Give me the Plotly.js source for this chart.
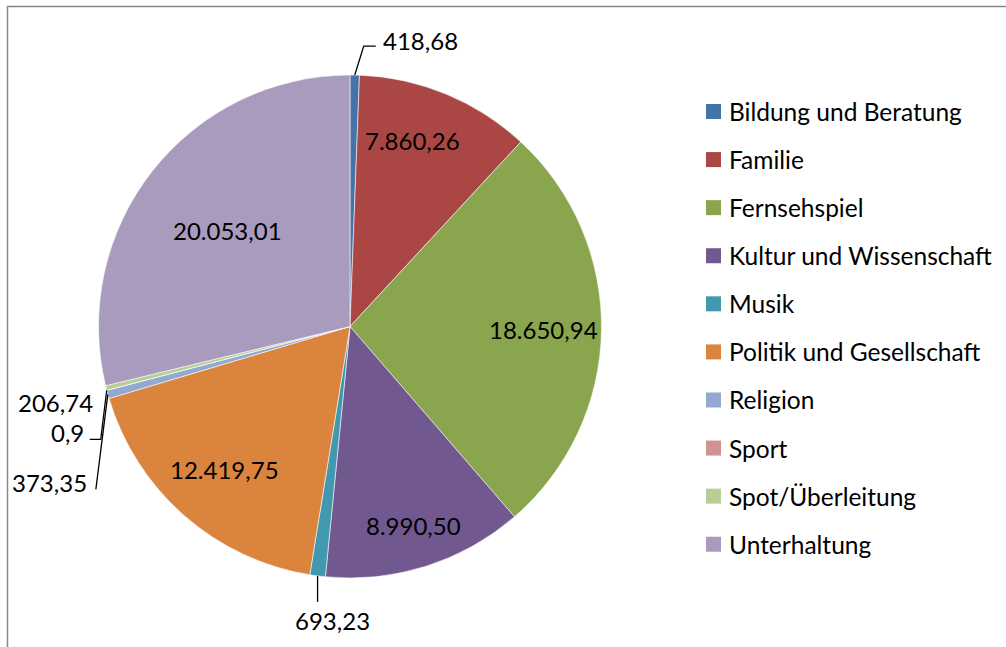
<!DOCTYPE html>
<html>
<head>
<meta charset="utf-8">
<script src="https://cdn.plot.ly/plotly-3.0.1.min.js"></script>
<style>
html,body{margin:0;padding:0;background:#fff;}
#chart{width:1006px;height:647px;}
</style>
</head>
<body>
<div id="chart"></div>
<script>
// ---- data ----
const categories = ["Bildung und Beratung","Familie","Fernsehspiel","Kultur und Wissenschaft","Musik","Politik und Gesellschaft","Religion","Sport","Spot/Überleitung","Unterhaltung"];
const values = [418.68, 7860.26, 18650.94, 8990.50, 693.23, 12419.75, 373.35, 0.9, 206.74, 20053.01];
const valueLabels = ["418,68","7.860,26","18.650,94","8.990,50","693,23","12.419,75","373,35","0,9","206,74","20.053,01"];
const colors = ["#4572A7","#AA4643","#89A54E","#71588F","#4198AF","#DB843D","#93A9CF","#D19392","#B9CD96","#A99BBD"];

// ---- layout config ----
const W = 1006, H = 647;
const cx = 350, cy = 326.5, R = 251.5;
const FONT = "Lato, 'Open Sans', sans-serif";
const FS = 24;     // data labels
const LFS = 24.5;  // legend
// inside label placement: radius (fraction of R) and angular nudge (deg)
const insideR = {1:0.78, 2:0.77, 3:0.83, 5:0.755, 9:0.62};
const insideAng = {1:-4};
// outside labels: leader path offsets (px) from slice edge point, label anchor offset
const outside = {
  0: {path:[[9,-29],[21,-29]], label:[26,-35], xanchor:'left'},
  4: {path:[[0,26]], label:[15,45], xanchor:'center'},
  6: {path:[[-12,95]], label:[-19,88], xanchor:'right'},
  7: {path:[[-6,49],[-17,49]], label:[-21,42], xanchor:'right'},
  8: {path:[], label:[-11,14], xanchor:'right'}
};

const px = x => x / W;
const py = y => 1 - y / H;

const total = values.reduce((a,b)=>a+b,0);
let cum = 0;
const mids = values.map(v => { const m = (cum + v/2)/total; cum += v; return m*2*Math.PI; });
const polar = (ang, r) => [cx + r*Math.sin(ang), cy - r*Math.cos(ang)];

const annotations = [];
const shapes = [];

// frame
shapes.push({type:'line', xref:'paper', yref:'paper', x0:px(7), x1:1, y0:py(6.5), y1:py(6.5), line:{color:'#878787', width:1.5}});
shapes.push({type:'line', xref:'paper', yref:'paper', x0:px(7.5), x1:px(7.5), y0:py(6), y1:0, line:{color:'#878787', width:1.5}});

values.forEach((v,i) => {
  if (insideR[i] !== undefined) {
    const ang = mids[i] + (insideAng[i] || 0) * Math.PI / 180;
    const [x,y] = polar(ang, R*insideR[i]);
    annotations.push({xref:'paper', yref:'paper', x:px(x), y:py(y), text:valueLabels[i], showarrow:false,
      xanchor:'center', yanchor:'middle', font:{family:FONT, size:FS, color:'#000'}});
  } else if (outside[i]) {
    const o = outside[i];
    const [ex,ey] = polar(mids[i], R);
    if (o.path.length) {
      let d = `M${px(ex)},${py(ey)}`;
      o.path.forEach(p => { d += ` L${px(ex+p[0])},${py(ey+p[1])}`; });
      shapes.push({type:'path', xref:'paper', yref:'paper', path:d, line:{color:'#000', width:1.3}});
    }
    annotations.push({xref:'paper', yref:'paper', x:px(ex+o.label[0]), y:py(ey+o.label[1]), text:valueLabels[i], showarrow:false,
      xanchor:o.xanchor, yanchor:'middle', font:{family:FONT, size:FS, color:'#000'}});
  }
});

// legend (built from categories/colors)
const legX = 706, legY0 = 111.5, legStep = 48.08, sw = 15;
categories.forEach((c,i) => {
  const yc = legY0 + i*legStep;
  shapes.push({type:'rect', xref:'paper', yref:'paper', x0:px(legX), x1:px(legX+sw), y0:py(yc-sw/2), y1:py(yc+sw/2),
    fillcolor:colors[i], line:{width:0}});
  annotations.push({xref:'paper', yref:'paper', x:px(legX+sw+6), y:py(yc), text:c, showarrow:false,
    xanchor:'left', yanchor:'middle', font:{family:FONT, size:LFS, color:'#000'}});
});

const trace = {
  type:'pie', labels:categories, values:values, sort:false, direction:'clockwise', rotation:0,
  marker:{colors:colors, line:{color:'rgba(255,255,255,0.7)', width:0.8}},
  textinfo:'none', hoverinfo:'label+value',
  domain:{x:[px(cx-R), px(cx+R)], y:[py(cy+R), py(cy-R)]}
};

Plotly.newPlot('chart', [trace], {
  width:W, height:H, margin:{l:0,r:0,t:0,b:0},
  paper_bgcolor:'#fff', showlegend:false,
  annotations:annotations, shapes:shapes,
  font:{family:FONT}
}, {displayModeBar:false, staticPlot:true});
</script>
</body>
</html>
